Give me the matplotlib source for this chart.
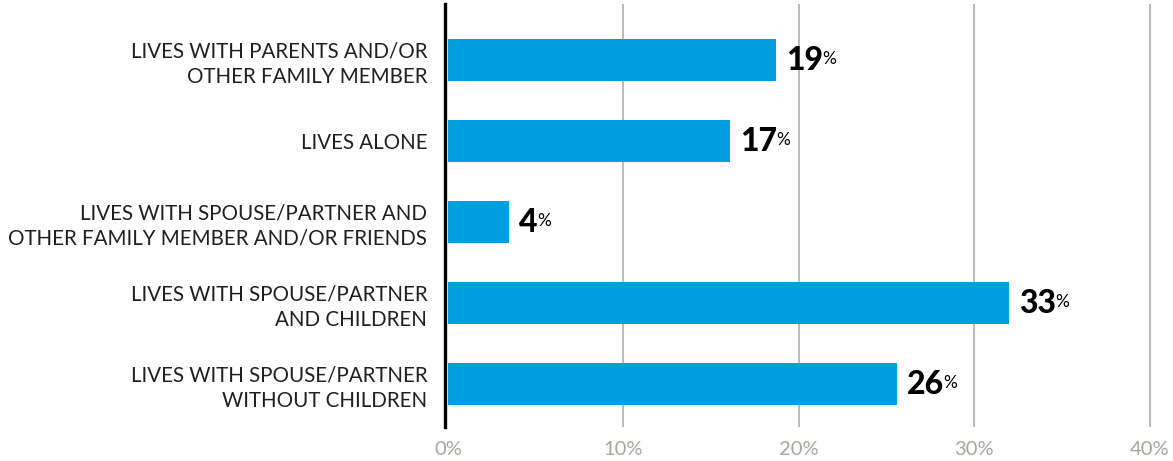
import matplotlib
matplotlib.use("Agg")
import matplotlib.pyplot as plt

categories = [
    "LIVES WITH PARENTS AND/OR\nOTHER FAMILY MEMBER",
    "LIVES ALONE",
    "LIVES WITH SPOUSE/PARTNER AND\nOTHER FAMILY MEMBER AND/OR FRIENDS",
    "LIVES WITH SPOUSE/PARTNER\nAND CHILDREN",
    "LIVES WITH SPOUSE/PARTNER\nWITHOUT CHILDREN",
]
values = [18.7, 16.1, 3.5, 32.0, 25.6]
value_labels = ["19", "17", "4", "33", "26"]
xticks = [0, 10, 20, 30, 40]
xtick_labels = ["0%", "10%", "20%", "30%", "40%"]

BAR = "#009fdf"
GRID = "#b3afaa"
TICK = "#a8a49f"
TEXT = "#231f20"
FONT = "Lato"
LABEL_FONT = "Lato"

W, H = 1173, 461
fig = plt.figure(figsize=(W / 100, H / 100), dpi=100)
left_px, right_px = 444.5, 1152
top_px, bot_px = 4, 427
ax = fig.add_axes([left_px / W, 1 - bot_px / H, (right_px - left_px) / W, (bot_px - top_px) / H])

ypos = list(range(len(categories)))
ax.barh(ypos, values, height=0.515, color=BAR, zorder=3)
ax.set_xlim(-0.2, 40.14)
ax.set_ylim(4.533, -0.689)

for x in xticks[1:]:
    ax.axvline(x, color=GRID, lw=1.2, zorder=1)

for s in ["top", "right", "bottom"]:
    ax.spines[s].set_visible(False)
ax.spines["left"].set_linewidth(2.4)
ax.spines["left"].set_color("black")
ax.spines["left"].set_zorder(4)

ax.set_xticks(xticks)
ax.set_xticklabels(xtick_labels, fontsize=14.5, color=TICK, family=FONT)
ax.tick_params(axis="x", length=0, pad=10)
ax.set_yticks(ypos)
ax.set_yticklabels(categories, fontsize=14.8, color=TEXT, family=LABEL_FONT, linespacing=1.3)
ax.tick_params(axis="y", length=0, pad=12.5)
for lbl in ax.get_yticklabels():
    lbl.set_horizontalalignment("right")

for i, (v, lab) in enumerate(zip(values, value_labels)):
    t = ax.annotate(lab, xy=(v, i), xytext=(7, -7.6), textcoords="offset points",
                    ha="left", va="baseline", fontsize=23, fontweight="black",
                    color="black", family=FONT, zorder=5)
    ax.annotate("%", xy=(1, 1), xycoords=t, xytext=(-0.5, -3.0), textcoords="offset points",
                ha="left", va="top", fontsize=12.5, color="black", family=FONT, zorder=5)

fig.savefig("out.png", dpi=100)
